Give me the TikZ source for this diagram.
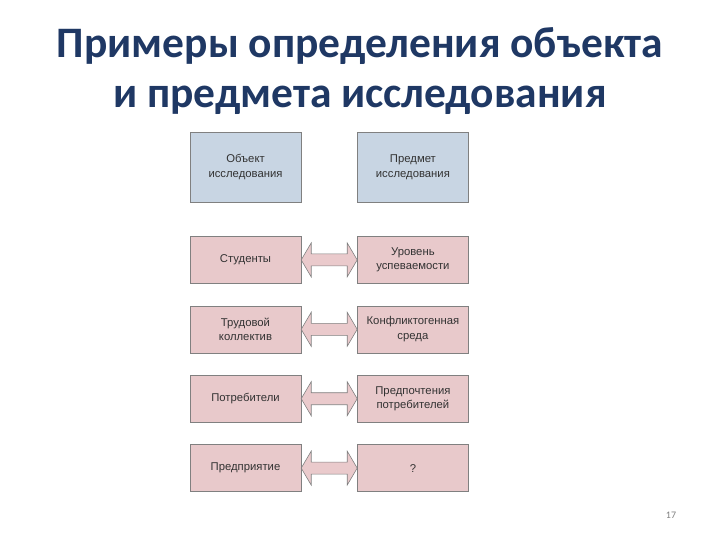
\documentclass[tikz,border=0pt]{standalone}
\usepackage{fontspec}
\setmainfont{Liberation Sans}
\newfontfamily\titlefont{Carlito}
\usetikzlibrary{positioning,calc}

\definecolor{hdblue}{RGB}{200,213,227}
\definecolor{rowpink}{RGB}{232,201,203}
\definecolor{arpink}{RGB}{234,202,204}
\definecolor{edgegray}{RGB}{128,128,128}
\definecolor{txtgray}{RGB}{50,50,50}
\definecolor{titleblue}{RGB}{31,56,100}

% double-headed block arrow between two boxes
\newcommand\biarrow[2]{%
  \draw[biar] (#1.east) -- ++(10,17) -- ++(0,-11) -- ($(#2.west)+(-10,6)$)
    -- ++(0,11) -- (#2.west) -- ++(-10,-17) -- ++(0,11)
    -- ($(#1.east)+(10,-6)$) -- ++(0,-11) -- cycle;}

\begin{document}
\begin{tikzpicture}[
    x=1pt, y=-1pt,
    node distance=22pt and 56pt,
    bx/.style={draw=edgegray, fill=rowpink, minimum width=111pt, minimum height=47pt,
      align=center, inner sep=2pt, text=txtgray, font=\fontsize{11.3}{14.5}\selectfont},
    hd/.style={bx, fill=hdblue, minimum height=70pt},
    biar/.style={draw=edgegray, fill=arpink, line width=0.6pt}
  ]
    \useasboundingbox (0,0) rectangle (720,540);

    \node[align=center, text=titleblue, font=\titlefont\bfseries\fontsize{43.5}{50}\selectfont]
      (title) at (360,71.5) {Примеры определения объекта\\и предмета исследования};

    \node[hd] (obj0) at (245.5,167) {Объект\\исследования};
    \node[hd, right=of obj0] (sub0) {Предмет\\исследования};

    \node[bx, below=34pt of obj0] (obj1) {Студенты};
    \node[bx, right=of obj1] (sub1) {Уровень\\успеваемости};
    \node[bx, below=of obj1] (obj2) {Трудовой\\коллектив};
    \node[bx, right=of obj2] (sub2) {Конфликтогенная\\среда};
    \node[bx, below=of obj2] (obj3) {Потребители};
    \node[bx, right=of obj3] (sub3) {Предпочтения\\потребителей};
    \node[bx, below=of obj3] (obj4) {Предприятие};
    \node[bx, right=of obj4] (sub4) {?};

    \foreach \i in {1,...,4} {\biarrow{obj\i}{sub\i}}

    \node[text=edgegray, font=\titlefont\fontsize{10}{12}\selectfont] (page) at (671,515) {17};
\end{tikzpicture}
\end{document}
